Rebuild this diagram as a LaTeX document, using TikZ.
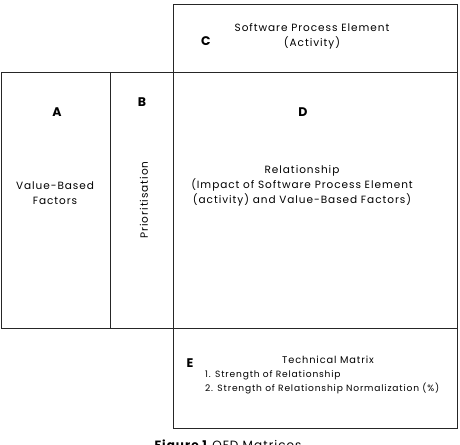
\documentclass[tikz,border=0pt]{standalone}
\usepackage{fontspec}
\setmainfont{Poppins}[LetterSpace=9]
\usetikzlibrary{positioning}

\begin{document}
\begin{tikzpicture}[x=1pt, y=-1pt, font=\fontsize{10.5}{15}\selectfont, node distance=0mm,
  caja/.style={draw=black!85, line width=0.8pt, inner sep=0pt, outer sep=0pt},
  letra/.style={font=\bfseries\fontsize{12.5}{14}\selectfont},
  texto/.style={align=center, inner sep=0pt}]
  \useasboundingbox (0,0) rectangle (460,444);
  % matrices
  \node[caja, minimum width=284pt, minimum height=256pt] (rel) at (315,200) {};
  \node[caja, minimum width=284pt, minimum height=68pt, above=of rel] (act) {};
  \node[caja, minimum width=284pt, minimum height=100pt, below=of rel] (tec) {};
  \node[caja, minimum width=63pt, minimum height=256pt, left=of rel] (pri) {};
  \node[caja, minimum width=109pt, minimum height=256pt, left=of pri] (val) {};
  % letras
  \node[letra] (la) at (57,112) {A};
  \node[letra] (lb) at (142,102) {B};
  \node[letra] (lc) at (206,41) {C};
  \node[letra] (ld) at (303,112) {D};
  \node[letra] (le) at (190,363) {E};
  % textos
  \node[texto] (tact) at (312,36) {Software Process Element\\(Activity)};
  \node[texto] (tval) at (55,193) {Value-Based\\Factors};
  \node[texto, rotate=90] (tpri) at (144,200) {Prioritisation};
  \node[texto] (trel) at (302,186) {Relationship\\(Impact of Software Process Element\\(activity) and Value-Based Factors)};
  \node[texto, font=\fontsize{9.8}{14}\selectfont] (ttec) at (328,360) {Technical Matrix};
  \node[texto, align=left, anchor=north west, font=\fontsize{9.1}{14}\selectfont] (tlis) at (205,370.5) {1. Strength of Relationship\\2. Strength of Relationship Normalization (\%)};
  \node[anchor=base, font=\fontsize{12}{14}\selectfont] (cap) at (228,449) {\textbf{Figure 1} QFD Matrices};
\end{tikzpicture}
\end{document}
